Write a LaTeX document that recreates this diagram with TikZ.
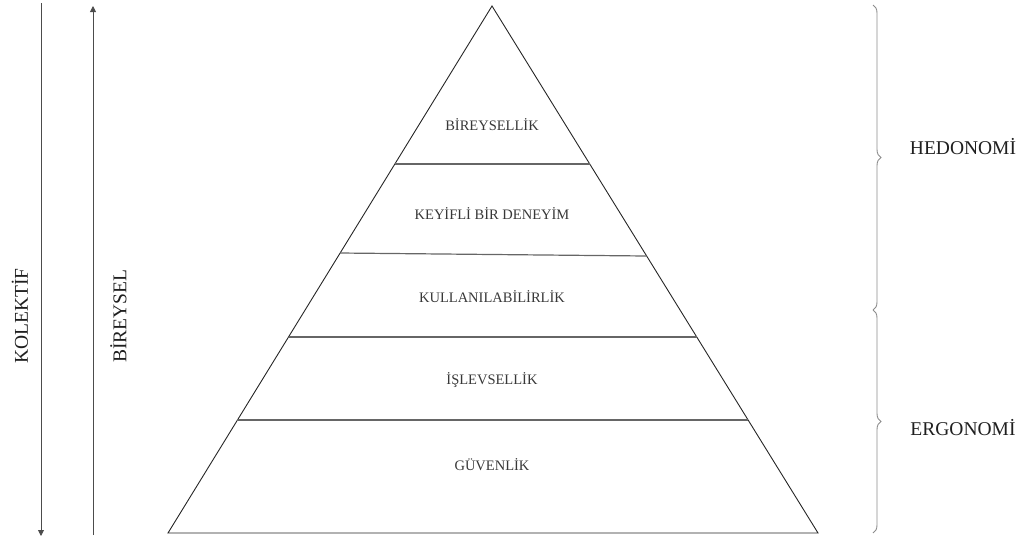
\documentclass[tikz,border=0pt]{standalone}
\usepackage{fontspec}
\setmainfont{Liberation Serif}
\usetikzlibrary{arrows.meta,decorations.pathreplacing,calc}
\begin{document}
\begin{tikzpicture}[x=1pt,y=-1pt,
 pyr/.style={draw=black!85, line width=0.9pt},
 tier/.style={draw=black!60, line width=1.2pt},
 tierlabel/.style={font=\fontsize{14.5}{17}\selectfont, text=black!78, inner sep=0pt},
 sidelabel/.style={font=\fontsize{19.5}{22}\selectfont, text=black!88, inner sep=0pt},
 axisline/.style={draw=black!70, line width=0.9pt, -{Triangle[length=6pt,width=6pt]}},
 bracestyle/.style={draw=black!45, line width=0.9pt, decorate, decoration={brace, amplitude=8pt}}]
\useasboundingbox (0,0) rectangle (1027,541);
% pyramid
\coordinate (apex) at (492,6);
\coordinate (bl) at (168,533);
\coordinate (br) at (818,533);
\draw[pyr, line join=miter] (apex) -- (bl) -- (br) -- cycle;
% tier boundaries
\coordinate (l1) at ($(apex)!0.2998!(bl)$);
\coordinate (r1) at ($(apex)!0.2998!(br)$);
\coordinate (l2) at ($(apex)!0.4687!(bl)$);
\coordinate (r2) at ($(apex)!0.4744!(br)$);
\coordinate (l3) at ($(apex)!0.6281!(bl)$);
\coordinate (r3) at ($(apex)!0.6281!(br)$);
\coordinate (l4) at ($(apex)!0.7856!(bl)$);
\coordinate (r4) at ($(apex)!0.7856!(br)$);
\draw[tier] (l1) -- (r1);
\draw[tier] (l2) -- (r2);
\draw[tier] (l3) -- (r3);
\draw[tier] (l4) -- (r4);
% tier labels
\node[tierlabel] (t1) at (492,125) {BİREYSELLİK};
\node[tierlabel] (t2) at (492,214) {KEYİFLİ BİR DENEYİM};
\node[tierlabel] (t3) at (492,297) {KULLANILABİLİRLİK};
\node[tierlabel] (t4) at (492,380) {İŞLEVSELLİK};
\node[tierlabel] (t5) at (492,465) {GÜVENLİK};
% left axes
\coordinate (kTop) at (41,3);
\coordinate (kBot) at (41,536);
\coordinate (bTop) at (93,6);
\coordinate (bBot) at (93,535);
\draw[axisline] (kTop) -- (kBot);
\draw[axisline] (bBot) -- (bTop);
\node[sidelabel, rotate=90] (kol) at (20,316) {KOLEKTİF};
\node[sidelabel, rotate=90] (bir) at (118.5,316) {BİREYSEL};
% right braces
\coordinate (h1) at (873,5);
\coordinate (h2) at (873,310);
\coordinate (e2) at (873,533);
\draw[bracestyle] (h1) -- (h2);
\draw[bracestyle] (h2) -- (e2);
\node[sidelabel] (hed) at (963,147) {HEDONOMİ};
\node[sidelabel] (erg) at (963,428) {ERGONOMİ};
\end{tikzpicture}
\end{document}
